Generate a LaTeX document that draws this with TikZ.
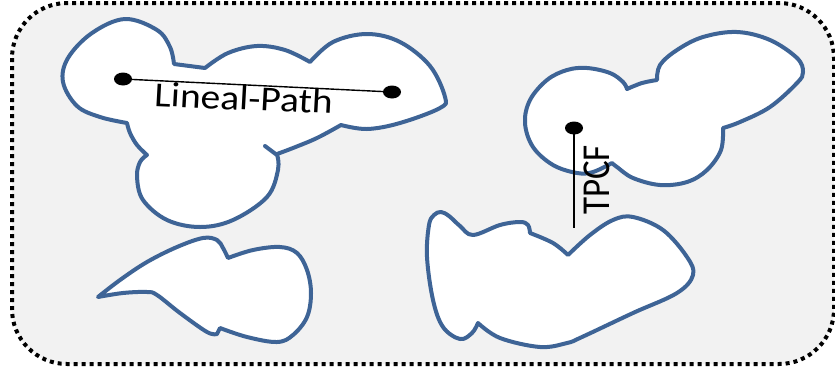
\documentclass[tikz,border=0pt]{standalone}
\usepackage{fontspec}
\setmainfont{Carlito}
\usetikzlibrary{shapes.geometric}
\definecolor{panelgray}{RGB}{242,242,242}
\definecolor{blobblue}{RGB}{62,100,150}
\begin{document}
\begin{tikzpicture}[x=1pt,y=-1pt,
  blob/.style={draw=blobblue,line width=4pt,fill=white,line join=round},
  blobline/.style={draw=blobblue,line width=4pt,line cap=round},
  sm/.style={smooth,tension=0.6},
  probe/.style={ellipse,fill=black,inner sep=0pt,minimum width=18pt,minimum height=13pt},
  measure/.style={font=\fontsize{35}{42}\selectfont,inner sep=0pt,transform shape}
]
\useasboundingbox (0,0) rectangle (835,373);
% panel
\draw[fill=panelgray,line width=4pt,dash pattern=on 4pt off 4pt,rounded corners=55pt]
  (12,3) rectangle (834,364);

% upper-left cluster
\path[blob] plot[sm] coordinates {(127,123) (100,117) (77,106) (63,82) (68,58) (92,33) (125,19) (157,30) (170,47) (174,64)}
  -- plot[sm] coordinates {(205,68) (228,53) (257,46) (285,50) (310,62)}
  -- plot[sm] coordinates {(310,62) (333,42) (367,34) (400,42) (430,66) (445,97) (440,108) (400,123) (367,129) (341,125)}
  -- plot[sm] coordinates {(341,125) (317,138) (293,148) (277,154)}
  -- plot[sm] coordinates {(277,154) (278,170) (267,197) (233,220) (200,227) (167,220) (143,200) (137,177) (140,162) (147,155)}
  -- plot[sm] coordinates {(147,155) (137,145) (130,133) (127,123)} -- cycle;
\draw[blobline] (265,146) -- (277,155);

% upper-right cluster
\path[blob] plot[sm] coordinates {(612,163) (593,172) (577,173) (553,165) (533,147) (525,123) (530,100) (547,80) (567,70) (587,68) (610,73) (623,82) (627,89)}
  -- plot[sm] coordinates {(627,89) (642,83) (657,80)}
  -- plot[sm] coordinates {(657,80) (660,65) (677,50) (703,37) (737,32) (770,40) (797,58) (803,72) (797,83) (770,107) (740,122) (723,128)}
  -- plot[sm] coordinates {(723,128) (721,150) (707,170) (687,182) (660,185) (633,178) (617,167) (612,163)} -- cycle;

% lower-left cluster
\path[blob] plot[sm] coordinates {(98,297) (120,280) (147,262) (177,247) (203,238) (217,240) (223,248) (228,258)}
  -- plot[sm] coordinates {(228,258) (253,250) (280,247) (297,253) (307,270) (311,293) (307,317) (293,335) (277,342) (247,337) (220,328)}
  -- (217,334)
  -- plot[sm] coordinates {(217,334) (207,332) (180,313) (157,295) (147,292) (123,293) (98,297)} -- cycle;

% lower-middle cluster
\path[blob] plot[sm] coordinates {(568,255) (590,235) (613,220) (633,217) (663,230) (687,257) (693,275) (677,293) (633,313) (582,337) (567,343) (540,347) (500,338) (478,323)}
  -- plot[sm] coordinates {(478,323) (472,333) (460,339) (443,327) (433,300) (427,257) (429,225) (434,215) (441,212) (449,216) (460,226) (473,235) (500,225) (520,222) (528,225) (530,233)}
  -- plot[sm] coordinates {(530,233) (553,243) (568,255)} -- cycle;

% lineal-path probe
\node[probe] (lpA) at (123,79) {};
\node[probe] (lpB) at (392,92) {};
\draw[line width=1.4pt] (lpA.center) -- (lpB.center);
\node[measure,anchor=base,xscale=1.13,rotate=-2.8] (lpLabel) at (243,110) {Lineal-Path};

% two-point correlation probe
\node[probe] (tpA) at (574,128) {};
\coordinate (tpB) at (574,228);
\draw[line width=1.8pt] (tpA.center) -- (tpB);
\node[measure,anchor=base,xscale=1.13,rotate=90] (tpLabel) at (609,180) {TPCF};
\end{tikzpicture}
\end{document}
